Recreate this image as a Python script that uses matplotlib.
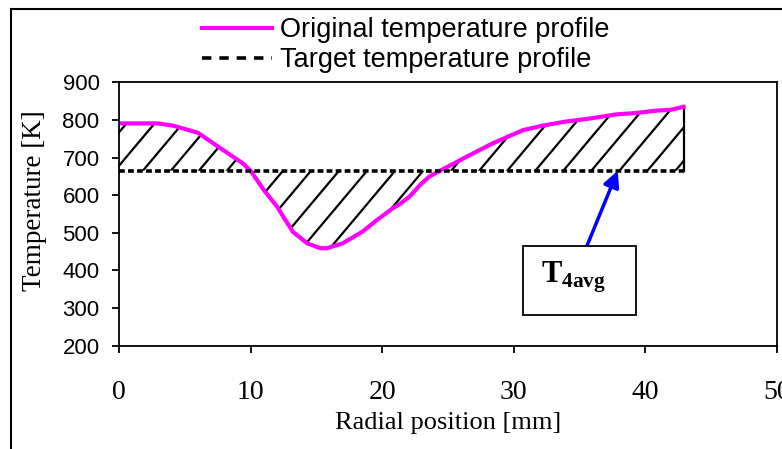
import numpy as np
import matplotlib.pyplot as plt
from matplotlib.lines import Line2D
from matplotlib.patches import Polygon, Rectangle

plt.rcParams['mathtext.fontset'] = 'custom'
plt.rcParams['mathtext.rm'] = 'Liberation Serif'
plt.rcParams['mathtext.bf'] = 'Liberation Serif:bold'

# radial position [mm] and original temperature [K]
radial_mm = [0.0, 2.9, 4.1, 6.0, 7.7, 9.4, 10.0, 11.0, 12.0, 13.2, 14.3, 15.3, 15.8,
             17.0, 18.5, 19.6, 20.8, 21.4, 22.1, 22.9, 23.6, 24.4, 26.4, 28.4, 30.7,
             32.2, 33.8, 35.8, 37.8, 39.1, 40.9, 41.9, 42.9]
temp_orig = [791, 791, 785, 766, 725, 685, 665, 614, 570, 503, 472, 459, 459,
             472, 503, 534, 565, 578, 597, 628, 650, 665, 702, 738, 773,
             785, 795, 804, 815, 818, 825, 827, 835]
temp_target = 665  # T4avg
arrow_tip_mm = 37.9

x_ticks = [0, 10, 20, 30, 40, 50]
y_ticks = [200, 300, 400, 500, 600, 700, 800, 900]

fig = plt.figure(figsize=(7.82, 4.49), dpi=100)
ax = fig.add_axes([0.1522, 0.2303, 0.8414, 0.5862])

x = np.array(radial_mm)
t = np.array(temp_orig)

# area between the two profiles, used as clip region for the hatch lines
verts = list(zip(x, t)) + [(x[-1], temp_target), (x[0], temp_target)]
region = Polygon(verts, closed=True, facecolor='none', edgecolor='none')
ax.add_patch(region)
for u in np.arange(-0.4, 1.0, 0.0426):
    hl, = ax.plot([u, u + 0.336], [0, 1], transform=ax.transAxes, color='black', lw=1.6)
    hl.set_clip_path(region)

ax.plot([x[-1], x[-1]], [temp_target, t[-1]], color='black', lw=1.6)
ax.plot(x, t, color='#ff00ff', lw=3)
ax.plot([x[0], x[-1]], [temp_target, temp_target], color='black', lw=2.6, dashes=(1.6, 0.9))

ax.set_xlim(0, 50)
ax.set_ylim(200, 900)
ax.set_xticks(x_ticks)
ax.set_yticks(y_ticks)
for sp in ax.spines.values():
    sp.set_linewidth(1.3)
ax.tick_params(axis='both', direction='out', length=5, width=1.3)
ax.tick_params(axis='x', pad=20)
ax.tick_params(axis='y', pad=9)
for lab in ax.get_xticklabels():
    lab.set_fontfamily('Liberation Serif')
    lab.set_fontsize(20)
for lab in ax.get_yticklabels():
    lab.set_fontfamily('Liberation Sans')
    lab.set_fontsize(16)

ax.set_xlabel('Radial position [mm]', fontfamily='Liberation Serif', fontsize=19, labelpad=5)
ax.set_ylabel('Temperature [K]', fontfamily='Liberation Serif', fontsize=19.5)
ax.yaxis.set_label_coords(-0.11, 0.55)

# T4avg callout
ax.add_patch(Rectangle((0.614, 0.116), 0.172, 0.262, transform=ax.transAxes,
                       facecolor='white', edgecolor='black', lw=1.3, zorder=5))
ax.text(0.641, 0.238, r'$\mathbf{T}_{\mathbf{4avg}}$', transform=ax.transAxes,
        fontsize=22, va='baseline', ha='left', zorder=6)
ax.annotate('', xy=(arrow_tip_mm, temp_target), xycoords='data',
            xytext=(0.711, 0.378), textcoords='axes fraction',
            arrowprops=dict(arrowstyle='-|>', color='blue', lw=2.5,
                            mutation_scale=24, shrinkA=0, shrinkB=0))

handles = [Line2D([], [], color='#ff00ff', lw=3),
           Line2D([], [], color='black', lw=2.6, dashes=(2.6, 2.2))]
fig.legend(handles, ['Original temperature profile', 'Target temperature profile'],
           loc='upper left', bbox_to_anchor=(0.258, 0.962), frameon=False,
           prop={'family': 'Liberation Sans', 'size': 19.5}, borderpad=0,
           borderaxespad=0, handlelength=2.6, handletextpad=0.3, labelspacing=0.15)

# outer chart frame (cropped on the right and bottom)
fig.add_artist(Line2D([11 / 782, 11 / 782], [0, 1 - 9 / 449], transform=fig.transFigure,
                      color='black', lw=1.5))
fig.add_artist(Line2D([11 / 782, 1], [1 - 9 / 449, 1 - 9 / 449], transform=fig.transFigure,
                      color='black', lw=1.5))

fig.savefig('out.png', dpi=100)
